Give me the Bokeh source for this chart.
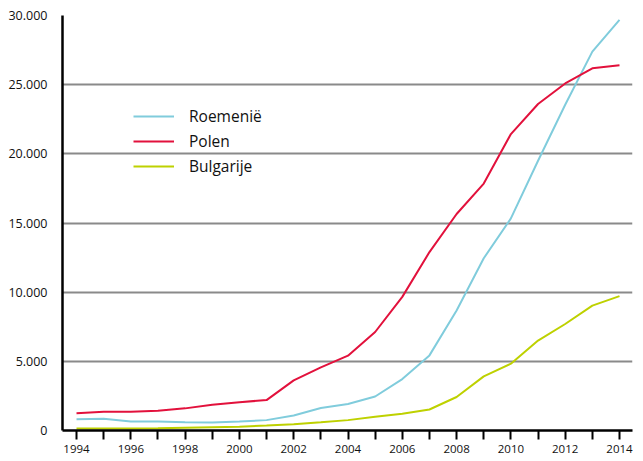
from bokeh.plotting import figure
from bokeh.models import FixedTicker, Legend, LegendItem, ColumnDataSource
from bokeh.embed import file_html
from bokeh.resources import INLINE

years = list(range(1994, 2015))
roemenie = [820, 850, 650, 650, 600, 580, 650, 750, 1090, 1620, 1910, 2460, 3720, 5430, 8670,
            12450, 15330, 19500, 23550, 27390, 29690]
polen = [1250, 1350, 1350, 1420, 1600, 1860, 2050, 2200, 3620, 4560, 5410, 7120, 9660, 12900, 15650,
         17850, 21430, 23600, 25090, 26180, 26400]
bulgarije = [150, 150, 150, 160, 200, 240, 270, 360, 460, 600, 750, 990, 1210, 1520, 2420,
             3910, 4830, 6500, 7700, 9030, 9710]

y_ticks = [0, 5000, 10000, 15000, 20000, 25000, 30000]
y_tick_labels = ["0", "5.000", "10.000", "15.000", "20.000", "25.000", "30.000"]
x_label_years = list(range(1994, 2015, 2))

series_names = ["Roemenië", "Polen", "Bulgarije"]
colors = ["#80CCDC", "#E2113C", "#BED100"]

FONT = "Open Sans"

p = figure(width=638, height=458, output_backend="svg", toolbar_location=None,
           x_range=(1993.484, 2014.479), y_range=(0, 30000),
           min_border_left=62, min_border_right=6, min_border_top=15, min_border_bottom=28)
p.outline_line_color = None
p.background_fill_color = "white"

src = ColumnDataSource(dict(x=years, r=roemenie, p=polen, b=bulgarije))
renderers = []
for col, c in zip(["r", "p", "b"], colors):
    renderers.append(p.line("x", col, source=src, line_color=c, line_width=2))

# grid
p.xgrid.grid_line_color = None
p.ygrid.ticker = FixedTicker(ticks=y_ticks[1:])
p.ygrid.grid_line_color = "#8a8a8a"
p.ygrid.grid_line_width = 2.2

# x axis
xa = p.xaxis[0]
xa.ticker = FixedTicker(ticks=years)
xa.major_label_overrides = {y: (str(y) if y in x_label_years else "") for y in years}
xa.axis_line_color = "black"
xa.axis_line_width = 2.5
xa.major_tick_line_color = "black"
xa.major_tick_line_width = 2
xa.major_tick_out = 9
xa.major_tick_in = 0
xa.minor_tick_line_color = None
xa.major_label_text_font = FONT
xa.major_label_text_font_size = "11.5px"
xa.major_label_text_color = "#111111"
xa.major_label_standoff = 5

# y axis
ya = p.yaxis[0]
ya.ticker = FixedTicker(ticks=y_ticks)
ya.major_label_overrides = dict(zip(y_ticks, y_tick_labels))
ya.axis_line_color = "black"
ya.axis_line_width = 2.5
ya.major_tick_line_color = None
ya.minor_tick_line_color = None
ya.major_label_text_font = FONT
ya.major_label_text_font_size = "12.5px"
ya.major_label_text_color = "#111111"
ya.major_label_standoff = 9

legend = Legend(items=[LegendItem(label=n, renderers=[r]) for n, r in zip(series_names, renderers)],
                location=(71, 253), orientation="vertical")
legend.background_fill_alpha = 0
legend.border_line_alpha = 0
legend.padding = 0
legend.margin = 0
legend.spacing = 3
legend.glyph_width = 41
legend.glyph_height = 20
legend.label_height = 20
legend.label_standoff = 15
legend.label_text_font = FONT
legend.label_text_font_size = "15.5px"
legend.label_text_color = "#111111"
p.add_layout(legend, "center")

open("out.html", "w").write(file_html(p, INLINE))
